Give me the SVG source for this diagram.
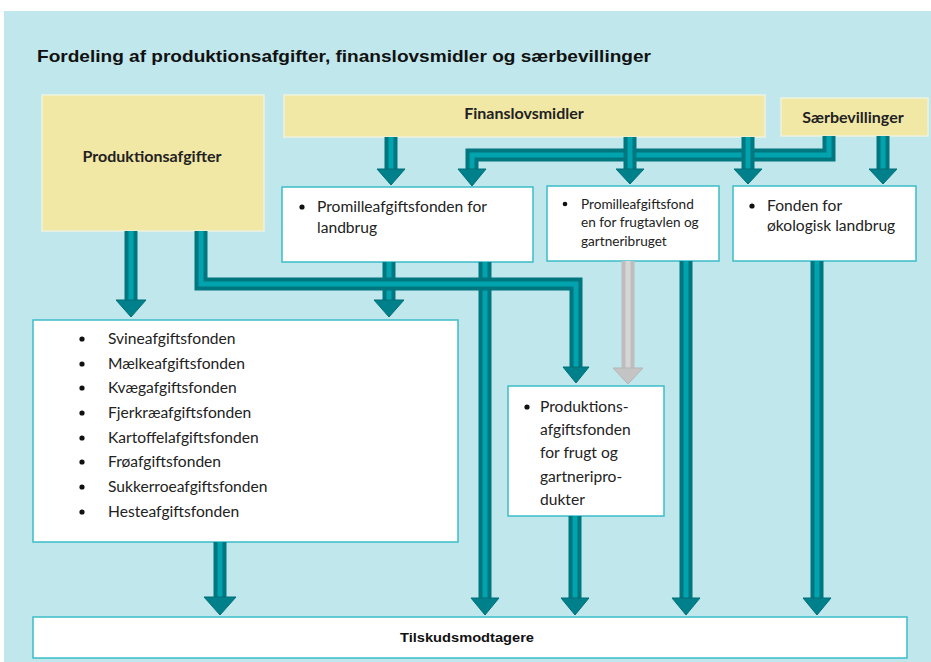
<svg xmlns="http://www.w3.org/2000/svg" width="931" height="662" viewBox="0 0 931 662">
<style>
.bg{fill:#c0e7ec}
.yel{fill:#f2e8a6;stroke:#eef2dc;stroke-width:1.5}
.box{fill:#ffffff;stroke:#3bbdc8;stroke-width:1.5}
.t{font-family:Lato,"Open Sans","Liberation Sans",sans-serif;fill:#222222}
.b{font-weight:bold}
.n{font-family:"Liberation Sans",Arial,sans-serif;font-weight:bold;fill:#111111}
.sh{fill:none;stroke:#00777f;stroke-width:13;stroke-linejoin:miter}
.in{fill:none;stroke:#00a3ae;stroke-width:5;stroke-linejoin:miter}
.ah{fill:#00808a;stroke:#006f77;stroke-width:1}
.gsh{fill:none;stroke:#bdbdbd;stroke-width:13}
.gin{fill:none;stroke:#d6d6d6;stroke-width:5}
.gah{fill:#c4c4c4;stroke:#b5b5b5;stroke-width:1}
.dot{fill:#111111}
</style>
<rect class="bg" x="4" y="11" width="927" height="651"/>
<text class="n" x="37" y="62" font-size="17" textLength="614" lengthAdjust="spacingAndGlyphs">Fordeling af produktionsafgifter, finanslovsmidler og særbevillinger</text>

<g id="produktionsafgifter">
<rect class="yel" x="42" y="95" width="222" height="136"/>
<text class="t b" x="152" y="162" font-size="16" text-anchor="middle">Produktionsafgifter</text>
</g>
<g id="finanslovsmidler">
<rect class="yel" x="284" y="95" width="481" height="42"/>
<text class="t b" x="524" y="119" font-size="16" text-anchor="middle">Finanslovsmidler</text>
</g>
<g id="saerbevillinger">
<rect class="yel" x="781" y="98" width="147" height="38"/>
<text class="t b" x="853" y="123" font-size="16" text-anchor="middle">Særbevillinger</text>
</g>
<g id="promille-landbrug">
<rect class="box" x="282" y="187" width="251" height="75"/>
<circle class="dot" cx="302" cy="207" r="2.6"/>
<text class="t" x="317" y="212" font-size="15.6">Promilleafgiftsfonden for</text>
<text class="t" x="317" y="233" font-size="15.6">landbrug</text>
</g>
<g id="promille-frugt">
<rect class="box" x="547" y="186" width="172" height="75"/>
<circle class="dot" cx="565" cy="204" r="2.3"/>
<text class="t" x="581" y="209" font-size="13.6">Promilleafgiftsfond</text>
<text class="t" x="581" y="227" font-size="13.6">en for frugtavlen og</text>
<text class="t" x="581" y="246" font-size="13.6">gartneribruget</text>
</g>
<g id="fonden-oekologisk">
<rect class="box" x="733" y="186" width="183" height="75"/>
<circle class="dot" cx="752" cy="206" r="2.6"/>
<text class="t" x="767" y="211" font-size="15.6">Fonden for</text>
<text class="t" x="767" y="231" font-size="15.6">økologisk landbrug</text>
</g>
<g id="fonde-liste">
<rect class="box" x="33" y="320" width="425" height="222"/>
<g class="dot">
<circle cx="82" cy="339" r="2.6"/><circle cx="82" cy="364" r="2.6"/><circle cx="82" cy="388" r="2.6"/><circle cx="82" cy="413" r="2.6"/>
<circle cx="82" cy="438" r="2.6"/><circle cx="82" cy="462" r="2.6"/><circle cx="82" cy="487" r="2.6"/><circle cx="82" cy="512" r="2.6"/>
</g>
<g class="t" font-size="15.6">
<text x="108" y="344">Svineafgiftsfonden</text>
<text x="108" y="369">Mælkeafgiftsfonden</text>
<text x="108" y="393">Kvægafgiftsfonden</text>
<text x="108" y="418">Fjerkræafgiftsfonden</text>
<text x="108" y="443">Kartoffelafgiftsfonden</text>
<text x="108" y="467">Frøafgiftsfonden</text>
<text x="108" y="492">Sukkerroeafgiftsfonden</text>
<text x="108" y="517">Hesteafgiftsfonden</text>
</g>
</g>
<g id="produktionsafgiftsfonden">
<rect class="box" x="508" y="386" width="156" height="130"/>
<circle class="dot" cx="527" cy="407" r="2.6"/>
<g class="t" font-size="15.6">
<text x="540" y="412">Produktions-</text>
<text x="540" y="435">afgiftsfonden</text>
<text x="540" y="458">for frugt og</text>
<text x="540" y="482">gartneripro-</text>
<text x="540" y="505">dukter</text>
</g>
</g>
<g id="tilskudsmodtagere">
<rect class="box" x="33" y="617" width="874" height="41"/>
<text class="n" x="467" y="642" font-size="13" text-anchor="middle" textLength="134" lengthAdjust="spacingAndGlyphs">Tilskudsmodtagere</text>
</g>

<g id="connectors">
<path class="gsh" d="M628 261V369"/><path class="gin" d="M628 261V369"/>
<polygon class="gah" points="613,368 643,368 628,384"/>

<path class="sh" d="M829 136V155H472V170"/><path class="in" d="M829 136V155H472V170"/>
<polygon class="ah" points="458,169 486,169 472,186"/>
<path class="sh" d="M391 137V170"/><path class="in" d="M391 137V170"/>
<polygon class="ah" points="377,169 405,169 391,185"/>
<path class="sh" d="M630 137V170"/><path class="in" d="M630 137V170"/>
<polygon class="ah" points="616,169 644,169 630,184"/>
<path class="sh" d="M748 137V170"/><path class="in" d="M748 137V170"/>
<polygon class="ah" points="734,169 762,169 748,184"/>
<path class="sh" d="M883 136V170"/><path class="in" d="M883 136V170"/>
<polygon class="ah" points="869,169 897,169 883,184"/>

<path class="sh" d="M131 231V301"/><path class="in" d="M131 231V301"/>
<polygon class="ah" points="116,300 146,300 131,317"/>
<path class="sh" d="M389 262V301"/><path class="in" d="M389 262V301"/>
<path class="sh" d="M485 262V599"/><path class="in" d="M485 262V599"/>
<path class="sh" d="M201 231V284H576V368"/><path class="in" d="M201 231V284H576V368"/>
<polygon class="ah" points="374,300 404,300 389,317"/>
<polygon class="ah" points="563,367 589,367 576,383"/>
<polygon class="ah" points="471,598 499,598 485,615"/>

<path class="sh" d="M686 261V599"/><path class="in" d="M686 261V599"/>
<polygon class="ah" points="672,598 700,598 686,615"/>
<path class="sh" d="M817 261V599"/><path class="in" d="M817 261V599"/>
<polygon class="ah" points="803,598 831,598 817,615"/>
<path class="sh" d="M575 516V599"/><path class="in" d="M575 516V599"/>
<polygon class="ah" points="561,598 589,598 575,615"/>
<path class="sh" d="M220 542V598"/><path class="in" d="M220 542V598"/>
<polygon class="ah" points="204,597 236,597 220,615"/>
</g>
</svg>
